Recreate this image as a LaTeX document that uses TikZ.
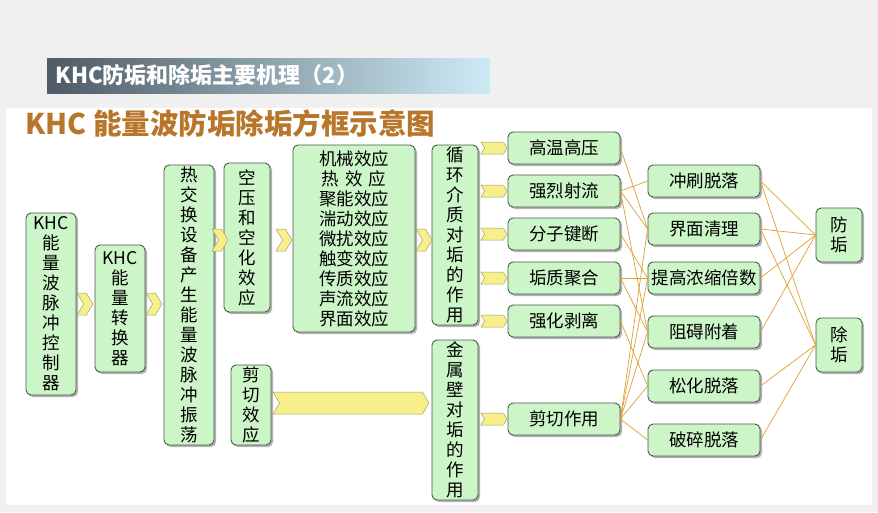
\documentclass[tikz,border=0pt]{standalone}
\usepackage{fontspec}
\setmainfont{Noto Sans CJK SC}
\usetikzlibrary{shadows}
\definecolor{boxfill}{HTML}{CCF5C8}
\definecolor{boxline}{HTML}{4A5A4A}
\definecolor{chevfill}{HTML}{F7F08A}
\definecolor{chevline}{HTML}{A0A070}
\definecolor{wire}{HTML}{E0A030}
\definecolor{headtext}{HTML}{B8762A}
\definecolor{bandleft}{HTML}{4E5A66}
\definecolor{bandright}{HTML}{CDEBF5}
\tikzset{
  box/.style={draw=boxline,fill=boxfill,line width=0.9pt,rounded corners=5pt,
    drop shadow={shadow xshift=2pt,shadow yshift=-2pt,opacity=0.6},
    align=center,inner sep=0pt,font=\fontsize{17.5}{20}\selectfont},
  wire/.style={draw=wire,line width=0.7pt}
}
% chevron: centre x, centre y, width, height
\newcommand{\chev}[4]{%
  \fill[chevfill,draw=chevline,line width=0.5pt]
    ({#1-#3/2},{#2-#4/2}) -- ({#1+#3/2-#4*0.3},{#2-#4/2}) -- ({#1+#3/2},{#2})
    -- ({#1+#3/2-#4*0.3},{#2+#4/2}) -- ({#1-#3/2},{#2+#4/2})
    -- ({#1-#3/2+#4*0.3},{#2}) -- cycle;}
\begin{document}
\begin{tikzpicture}[x=1pt,y=-1pt]
\useasboundingbox (0,0) rectangle (878,512);
\fill[gray!12] (0,0) rectangle (878,512);
\fill[white] (6,108) rectangle (872,505);
% banner
\shade[left color=bandleft,right color=bandright] (47,58) rectangle (490,93);
\node[anchor=west,font=\bfseries\fontsize{22}{22}\selectfont,text=white] (title) at (52,75.5) {KHC防垢和除垢主要机理（2）};
\node[anchor=west,font=\bfseries\fontsize{28.5}{28.5}\selectfont,text=headtext] (head) at (22,124) {KHC 能量波防垢除垢方框示意图};

% left chain
\node[box,minimum width=50pt,minimum height=182pt] (ctrl) at (51,304) {KHC\\能\\量\\波\\脉\\冲\\控\\制\\器};
\node[box,minimum width=50pt,minimum height=127pt] (conv) at (120,308.5) {KHC\\能\\量\\转\\换\\器};
\node[box,minimum width=50pt,minimum height=280pt] (heat) at (189,305) {热\\交\\换\\设\\备\\产\\生\\能\\量\\波\\脉\\冲\\振\\荡};
\node[box,minimum width=46pt,minimum height=149pt] (air) at (247,237.5) {空\\压\\和\\空\\化\\效\\应};
\node[box,minimum width=122pt,minimum height=187pt] (eff) at (354,238.5) {机械效应\\热\,\,效\,\,应\\聚能效应\\湍动效应\\微扰效应\\触变效应\\传质效应\\声流效应\\界面效应};
\node[box,minimum width=46pt,minimum height=180pt] (circ) at (455,235) {循\\环\\介\\质\\对\\垢\\的\\作\\用};
\node[box,minimum width=40pt,minimum height=80pt] (shear) at (251,405) {剪\\切\\效\\应};
\node[box,minimum width=46pt,minimum height=160pt] (wall) at (455,420) {金\\属\\壁\\对\\垢\\的\\作\\用};

% first stage
\foreach \n/\t/\y in {a1/高温高压/148,a2/强烈射流/191,a3/分子键断/234,
    a4/垢质聚合/278,a5/强化剥离/321,a6/剪切作用/419}
  \node[box,minimum width=112pt,minimum height=32pt] (\n) at (564,\y) {\t};
% second stage
\foreach \n/\t/\y in {m1/冲刷脱落/181,m2/界面清理/229,m3/提高浓缩倍数/278,
    m4/阻碍附着/332,m5/松化脱落/386,m6/破碎脱落/440}
  \node[box,minimum width=112pt,minimum height=32pt] (\n) at (704,\y) {\t};
\node[box,minimum width=46pt,minimum height=54pt] (anti) at (839,235) {防\\垢};
\node[box,minimum width=46pt,minimum height=54pt] (desc) at (839,345) {除\\垢};

% chevrons
\chev{85}{304}{16}{22}
\chev{154}{304}{16}{22}
\chev{220}{240}{16}{22}
\chev{284}{240}{16}{22}
\chev{424}{240}{16}{22}
\foreach \y in {148,191,234,278,321,419}{
  \chev{494}{\y}{26}{12}
}
\chev{351}{403}{156}{22}

% wires
\foreach \s/\t in {a1/m2,a2/m1,a2/m2,a2/m4,a3/m3,a4/m3,a4/m4,a5/m5,
    a6/m2,a6/m3,a6/m4,a6/m5,a6/m6}
  \draw[wire] (\s.east) -- (\t.west);
\foreach \s/\t in {m1/anti,m1/desc,m2/anti,m2/desc,m3/anti,m4/anti,m5/desc,m6/desc}
  \draw[wire] (\s.east) -- (\t.west);
\end{tikzpicture}
\end{document}
